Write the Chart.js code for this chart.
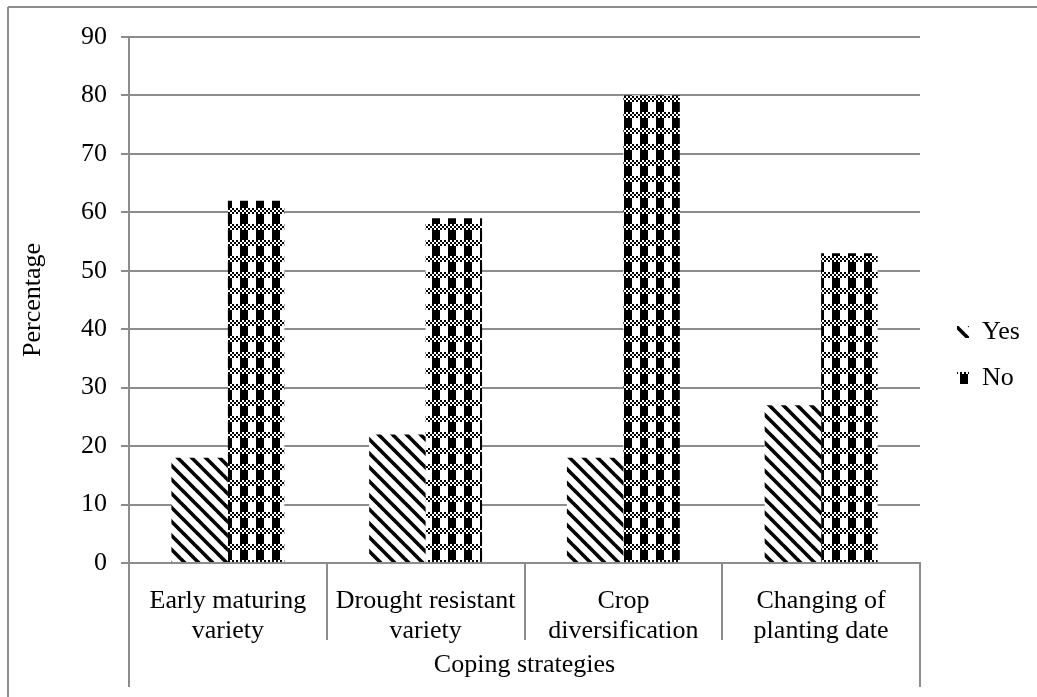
<!DOCTYPE html>
<html>
<head>
<meta charset="utf-8">
<script src="https://cdn.jsdelivr.net/npm/chart.js@4.4.1/dist/chart.umd.min.js"></script>
<style>
  html, body { margin: 0; padding: 0; background: #ffffff; }
  #wrap { width: 1037px; height: 697px; position: relative; }
</style>
</head>
<body>
<div id="wrap"><canvas id="chart" width="1037" height="697"></canvas></div>
<script>
// Coping strategies (two-line category labels)
const categories = [
  ['Early maturing', 'variety'],
  ['Drought resistant', 'variety'],
  ['Crop', 'diversification'],
  ['Changing of', 'planting date']
];
const seriesNames = ['Yes', 'No'];
const yesValues = [18, 22, 18, 27];
const noValues = [62, 59, 80, 53];
const yMin = 0;
const yMax = 90;
const yStep = 10;

const FONT = "'Liberation Serif', 'Times New Roman', serif";
const FONT_SIZE = 26;
const LINE = '#8c8c8c';

// Wide downward diagonal stripes
function stripePattern() {
  const s = 14;
  const c = document.createElement('canvas');
  c.width = s; c.height = s;
  const g = c.getContext('2d');
  g.fillStyle = '#ffffff';
  g.fillRect(0, 0, s, s);
  g.strokeStyle = '#000000';
  g.lineWidth = 3.6;
  for (let k = -1; k <= 1; k++) {
    g.beginPath();
    g.moveTo(k * s - 2, -2);
    g.lineTo(k * s + s + 2, s + 2);
    g.stroke();
  }
  return g.createPattern(c, 'repeat');
}

// Large check blocks separated by bands of small checks
function checkPattern() {
  const s = 16;
  const c = document.createElement('canvas');
  c.width = s; c.height = s;
  const g = c.getContext('2d');
  g.fillStyle = '#ffffff';
  g.fillRect(0, 0, s, s);
  g.fillStyle = '#000000';
  for (let r = 0; r < 3; r++) {
    for (let q = 0; q < 8; q++) {
      if ((r + q) % 2 === 0) g.fillRect(q * 2, r * 2, 2, 2);
    }
  }
  g.fillRect(0, 6, 8, 10);
  return g.createPattern(c, 'repeat');
}

// Category separators below the axis and the outer frame
const axisFrame = {
  id: 'axisFrame',
  afterLayout(chart) {
    const lg = chart.legend;
    if (lg) {
      lg.left += 17; lg.right += 17;
      lg.top -= 12; lg.bottom -= 12;
    }
  },
  afterDraw(chart) {
    const ctx = chart.ctx;
    const a = chart.chartArea;
    const n = categories.length;
    const w = (a.right - a.left) / n;
    ctx.save();
    ctx.strokeStyle = LINE;
    ctx.lineWidth = 2;
    ctx.beginPath();
    for (let k = 1; k < n; k++) {
      const x = Math.round(a.left + k * w);
      ctx.moveTo(x, a.bottom);
      ctx.lineTo(x, 640);
    }
    ctx.moveTo(Math.round(a.left), a.bottom);
    ctx.lineTo(Math.round(a.left), 687);
    ctx.moveTo(Math.round(a.right), a.bottom - 1);
    ctx.lineTo(Math.round(a.right), 687);
    ctx.stroke();
    ctx.beginPath();
    ctx.moveTo(8, 7);
    ctx.lineTo(1037, 7);
    ctx.moveTo(8, 7);
    ctx.lineTo(8, 697);
    ctx.stroke();
    ctx.restore();
  }
};

const ctx = document.getElementById('chart').getContext('2d');
new Chart(ctx, {
  type: 'bar',
  data: {
    labels: categories,
    datasets: [
      { label: seriesNames[0], data: yesValues, backgroundColor: stripePattern(), borderWidth: 0 },
      { label: seriesNames[1], data: noValues, backgroundColor: checkPattern(), borderWidth: 0 }
    ]
  },
  options: {
    responsive: false,
    devicePixelRatio: 1,
    animation: false,
    categoryPercentage: 0.571,
    barPercentage: 1.0,
    layout: { padding: { top: 37, right: 27, bottom: 0, left: 0 } },
    plugins: {
      tooltip: { enabled: false },
      legend: {
        position: 'right',
        maxWidth: 90,
        labels: {
          boxWidth: 12,
          boxHeight: 12,
          padding: 20,
          color: '#000000',
          font: { family: FONT, size: FONT_SIZE }
        }
      }
    },
    scales: {
      x: {
        grid: { display: false },
        border: { display: false },
        ticks: {
          color: '#000000',
          padding: 15,
          maxRotation: 0,
          autoSkip: false,
          font: { family: FONT, size: FONT_SIZE, lineHeight: 1.15 }
        },
        title: {
          display: true,
          text: 'Coping strategies',
          color: '#000000',
          font: { family: FONT, size: FONT_SIZE, lineHeight: 1.15 },
          padding: { top: 0, bottom: 17 }
        },
        afterFit(scale) { scale.height = 134; }
      },
      y: {
        min: yMin,
        max: yMax,
        ticks: {
          stepSize: yStep,
          color: '#000000',
          padding: 14,
          font: { family: FONT, size: FONT_SIZE }
        },
        grid: {
          color: LINE,
          lineWidth: 2,
          tickLength: 8,
          tickColor: LINE,
          drawTicks: true
        },
        border: { display: true, color: LINE, width: 2 },
        title: {
          display: true,
          text: 'Percentage',
          color: '#000000',
          font: { family: FONT, size: FONT_SIZE, lineHeight: 1.15 },
          padding: { top: 18, bottom: 0 }
        },
        afterFit(scale) { scale.width = 129; }
      }
    }
  },
  plugins: [axisFrame]
});
</script>
</body>
</html>
